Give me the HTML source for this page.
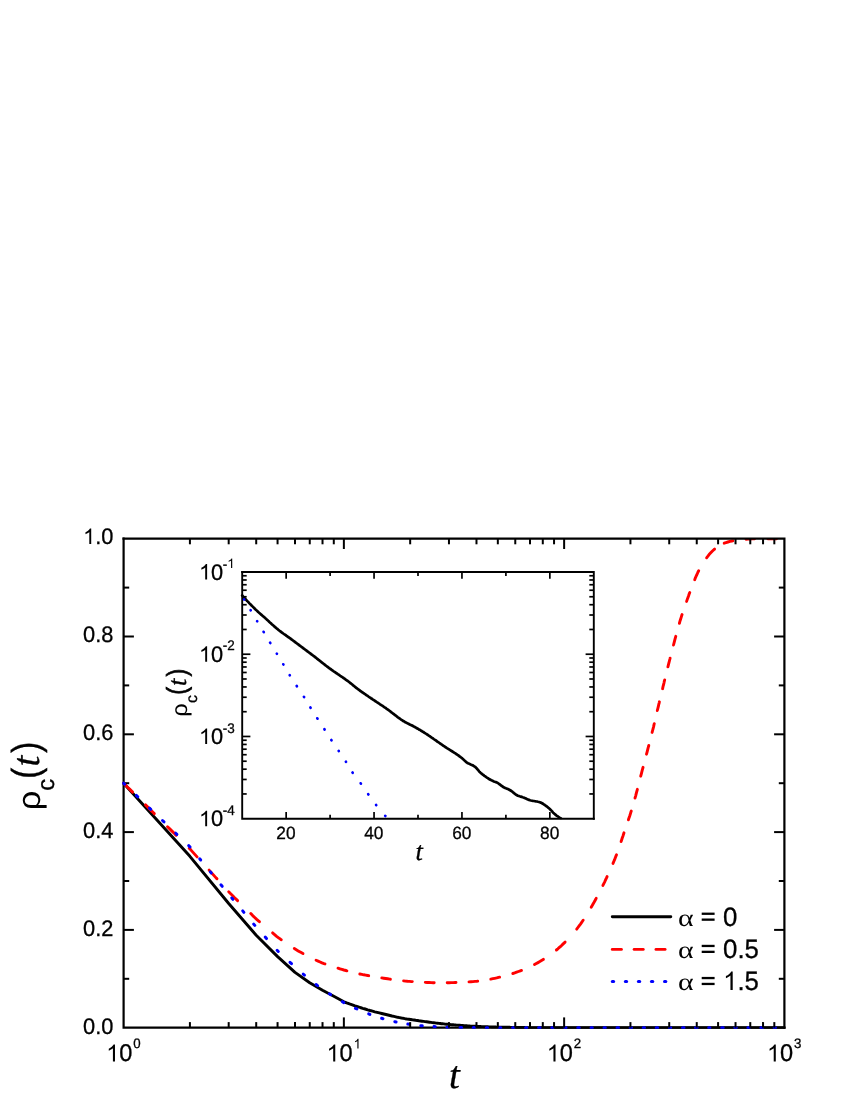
<!DOCTYPE html>
<html><head><meta charset="utf-8"><title>rho_c(t) chart</title>
<style>html,body{margin:0;padding:0;background:#fff;}body{width:850px;height:1100px;position:relative;overflow:hidden;font-family:"Liberation Sans",sans-serif;}</style>
</head><body>
<svg width="850" height="1100" viewBox="0 0 850 1100" style="position:absolute;left:0;top:0">
<rect width="850" height="1100" fill="#fff"/>
<g id="main-axes-bl">
<path d="M123.6 538.7 V1027.7 H784.4" fill="none" stroke="#000" stroke-width="2.2" stroke-linecap="square" stroke-linejoin="miter"/>
<line x1="123.6" y1="978.8" x2="129.2" y2="978.8" stroke="#000" stroke-width="2.0" stroke-linecap="butt"/>
<line x1="123.6" y1="929.9" x2="133.9" y2="929.9" stroke="#000" stroke-width="2.0" stroke-linecap="butt"/>
<line x1="123.6" y1="881" x2="129.2" y2="881" stroke="#000" stroke-width="2.0" stroke-linecap="butt"/>
<line x1="123.6" y1="832.1" x2="133.9" y2="832.1" stroke="#000" stroke-width="2.0" stroke-linecap="butt"/>
<line x1="123.6" y1="783.2" x2="129.2" y2="783.2" stroke="#000" stroke-width="2.0" stroke-linecap="butt"/>
<line x1="123.6" y1="734.3" x2="133.9" y2="734.3" stroke="#000" stroke-width="2.0" stroke-linecap="butt"/>
<line x1="123.6" y1="685.4" x2="129.2" y2="685.4" stroke="#000" stroke-width="2.0" stroke-linecap="butt"/>
<line x1="123.6" y1="636.5" x2="133.9" y2="636.5" stroke="#000" stroke-width="2.0" stroke-linecap="butt"/>
<line x1="123.6" y1="587.6" x2="129.2" y2="587.6" stroke="#000" stroke-width="2.0" stroke-linecap="butt"/>
</g>
<g id="main-data" fill="none" stroke-linejoin="round">
<clipPath id="cm"><rect x="119.6" y="538.2" width="665.8" height="490.5"/></clipPath>
<g clip-path="url(#cm)">
<path d="M123.6 783.2 L189.9 856.3 L228.7 903.5 L256.2 935.2 L277.6 956.6 L295.0 972.4 L309.7 982.7 L322.5 990.2 L333.8 996.2 L343.9 1001.8 L346.7 1002.9 L349.5 1003.9 L352.3 1004.8 L355.0 1005.8 L357.6 1006.6 L360.2 1007.5 L362.7 1008.3 L365.2 1009.0 L367.7 1009.8 L370.1 1010.5 L372.5 1011.1 L374.8 1011.8 L377.1 1012.3 L379.4 1012.9 L381.7 1013.5 L383.8 1014.0 L386.0 1014.5 L388.0 1015.0 L390.0 1015.5 L392.0 1016.0 L393.9 1016.4 L395.8 1016.8 L397.7 1017.3 L399.5 1017.6 L401.4 1018.0 L403.3 1018.3 L405.1 1018.7 L407.0 1019.0 L408.8 1019.2 L410.6 1019.5 L412.3 1019.8 L414.0 1020.0 L415.7 1020.3 L417.3 1020.5 L419.0 1020.8 L420.5 1021.0 L422.1 1021.2 L423.6 1021.4 L425.1 1021.6 L426.6 1021.8 L428.1 1022.0 L429.5 1022.2 L430.9 1022.4 L432.3 1022.6 L433.7 1022.7 L435.0 1022.9 L436.3 1023.1 L437.6 1023.2 L438.9 1023.4 L440.2 1023.5 L441.4 1023.7 L442.6 1023.8 L443.8 1023.9 L445.0 1024.1 L446.2 1024.2 L447.4 1024.3 L448.6 1024.4 L449.8 1024.5 L450.9 1024.6 L452.1 1024.7 L453.2 1024.8 L454.4 1024.9 L455.5 1025.0 L456.6 1025.1 L457.7 1025.1 L458.8 1025.2 L459.9 1025.3 L460.9 1025.4 L461.9 1025.5 L462.9 1025.5 L463.9 1025.6 L464.8 1025.7 L465.8 1025.8 L466.7 1025.8 L467.7 1025.9 L468.6 1025.9 L469.6 1026.0 L470.6 1026.1 L471.5 1026.1 L472.4 1026.2 L473.4 1026.2 L474.3 1026.2 L475.2 1026.3 L476.1 1026.3 L477.0 1026.4 L477.9 1026.4 L478.8 1026.5 L479.7 1026.5 L480.6 1026.5 L481.4 1026.6 L482.3 1026.6 L483.1 1026.6 L484.0 1026.7 L484.8 1026.7 L485.6 1026.7 L486.3 1026.8 L487.1 1026.8 L487.9 1026.8 L488.6 1026.9 L489.4 1026.9 L490.2 1026.9 L491.0 1026.9 L491.8 1027.0 L492.6 1027.0 L493.4 1027.0 L494.2 1027.0 L495.0 1027.0 L495.8 1027.0 L496.6 1027.1 L497.3 1027.1 L498.1 1027.1 L498.8 1027.1 L499.6 1027.1 L500.3 1027.2 L501.0 1027.2 L501.7 1027.2 L502.4 1027.2 L503.1 1027.2 L503.8 1027.2 L504.4 1027.2 L505.1 1027.3 L505.8 1027.3 L506.4 1027.3 L507.1 1027.3 L507.7 1027.3 L508.4 1027.3 L509.0 1027.3 L509.7 1027.3 L510.3 1027.4 L511.0 1027.4 L511.6 1027.4 L512.2 1027.4 L512.9 1027.4 L513.5 1027.4 L514.1 1027.4 L514.7 1027.4 L515.2 1027.4 L515.8 1027.4 L516.3 1027.5 L516.8 1027.5 L517.4 1027.5 L518.1 1027.5 L518.7 1027.5 L519.4 1027.5 L519.9 1027.5 L520.4 1027.5 L520.9 1027.5 L521.3 1027.5 L521.8 1027.5 L522.3 1027.5 L522.8 1027.5 L523.4 1027.5 L523.9 1027.5 L524.5 1027.5 L525.1 1027.6 L525.6 1027.6 L526.2 1027.6 L526.8 1027.6 L527.4 1027.6 L527.9 1027.6 L528.4 1027.6 L528.9 1027.6 L529.5 1027.6 L530.1 1027.6 L530.6 1027.6 L531.2 1027.6 L531.7 1027.6 L532.2 1027.6 L532.7 1027.6 L533.1 1027.6 L533.7 1027.6 L534.2 1027.6 L534.8 1027.6 L535.4 1027.6 L535.9 1027.6 L536.4 1027.6 L537.0 1027.6 L537.5 1027.6 L538.1 1027.6 L538.7 1027.6 L539.2 1027.6 L539.8 1027.6 L540.3 1027.6 L540.8 1027.6 L541.2 1027.6 L541.7 1027.6 L542.1 1027.6 L542.6 1027.6 L543.0 1027.6 L543.3 1027.6 L543.7 1027.6 L544.1 1027.6 L544.5 1027.6 L544.9 1027.6 L545.4 1027.6 L545.7 1027.7 L564.1 1027.7 L784.4 1027.7" stroke="#000" stroke-width="2.9" stroke-linecap="round"/>
<path d="M123.6 783.2 L125.6 785.2 L127.6 787.2 L129.6 789.1 L131.6 791.1 L132.6 792.1" stroke="#ff0000" stroke-width="2.9" stroke-linecap="round"/>
<path d="M145.5 804.9 L147.5 806.9 L149.5 808.9 L151.5 810.9 L153.5 812.8 L154.3 813.6" stroke="#ff0000" stroke-width="2.9" stroke-linecap="round"/>
<path d="M167.5 826.7 L169.5 828.6 L171.5 830.6 L173.5 832.6 L175.4 834.6 L176.2 835.3" stroke="#ff0000" stroke-width="2.9" stroke-linecap="round"/>
<path d="M189.2 848.2 L191.0 850.1 L192.8 852.1 L194.6 854.1 L196.4 856.1 L197.1 856.9" stroke="#ff0000" stroke-width="2.9" stroke-linecap="round"/>
<path d="M209.1 870.1 L210.9 872.1 L212.7 874.1 L214.5 876.1 L216.3 878.1 L217.0 878.8" stroke="#ff0000" stroke-width="2.9" stroke-linecap="round"/>
<path d="M228.7 891.8 L230.7 893.8 L232.7 895.7 L234.6 897.7 L236.6 899.6 L237.6 900.6" stroke="#ff0000" stroke-width="2.9" stroke-linecap="round"/>
<path d="M250.8 913.6 L252.7 915.6 L254.7 917.5 L256.7 919.4 L258.7 921.1 L259.4 921.7" stroke="#ff0000" stroke-width="2.9" stroke-linecap="round"/>
<path d="M272.6 932.9 L274.6 934.6 L276.6 936.3 L278.6 937.8 L280.5 939.2 L281.3 939.7" stroke="#ff0000" stroke-width="2.9" stroke-linecap="round"/>
<path d="M294.3 948.6 L296.3 949.8 L298.2 950.9 L300.2 952.0 L302.2 953.1 L303.0 953.5" stroke="#ff0000" stroke-width="2.9" stroke-linecap="round"/>
<path d="M316.1 960.2 L318.1 961.1 L320.1 962.0 L322.0 962.9 L324.0 963.6 L325.0 963.9" stroke="#ff0000" stroke-width="2.9" stroke-linecap="round"/>
<path d="M338.0 968.2 L339.9 968.8 L341.9 969.4 L343.9 970.0 L345.9 970.5 L346.9 970.8" stroke="#ff0000" stroke-width="2.9" stroke-linecap="round"/>
<path d="M359.8 974.0 L361.8 974.4 L363.8 974.8 L365.7 975.1 L367.7 975.5 L368.7 975.7" stroke="#ff0000" stroke-width="2.9" stroke-linecap="round"/>
<path d="M381.8 977.9 L383.7 978.2 L385.7 978.5 L387.7 978.8 L389.7 979.1 L390.4 979.2" stroke="#ff0000" stroke-width="2.9" stroke-linecap="round"/>
<path d="M403.6 980.9 L405.5 981.1 L407.5 981.3 L409.5 981.4 L411.5 981.6 L412.3 981.6" stroke="#ff0000" stroke-width="2.9" stroke-linecap="round"/>
<path d="M425.3 982.4 L427.2 982.5 L429.2 982.5 L431.2 982.6 L433.2 982.7 L434.2 982.7" stroke="#ff0000" stroke-width="2.9" stroke-linecap="round"/>
<path d="M447.2 982.7 L449.2 982.7 L451.2 982.6 L453.2 982.6 L455.2 982.5 L456.0 982.5" stroke="#ff0000" stroke-width="2.9" stroke-linecap="round"/>
<path d="M469.0 981.9 L471.0 981.7 L473.0 981.6 L475.0 981.4 L477.0 981.2 L477.7 981.1" stroke="#ff0000" stroke-width="2.9" stroke-linecap="round"/>
<path d="M490.8 979.1 L492.8 978.7 L494.7 978.3 L496.7 977.9 L498.6 977.4 L499.6 977.2" stroke="#ff0000" stroke-width="2.9" stroke-linecap="round"/>
<path d="M512.8 973.5 L514.7 972.9 L516.6 972.2 L518.5 971.5 L520.4 970.8 L521.5 970.4" stroke="#ff0000" stroke-width="2.9" stroke-linecap="round"/>
<path d="M534.5 964.5 L536.3 963.5 L538.0 962.6 L539.8 961.6 L541.5 960.6 L543.2 959.6 L543.4 959.4" stroke="#ff0000" stroke-width="2.9" stroke-linecap="round"/>
<path d="M556.4 950.0 L557.9 948.8 L559.4 947.4 L561.3 945.8 L563.2 943.9 L565.1 942.1 L565.1 942.1" stroke="#ff0000" stroke-width="2.9" stroke-linecap="round"/>
<path d="M576.7 929.1 L577.9 927.5 L579.1 925.9 L580.3 924.3 L581.5 922.6 L582.6 921.0 L583.2 920.2" stroke="#ff0000" stroke-width="2.9" stroke-linecap="round"/>
<path d="M591.2 907.2 L592.2 905.5 L593.2 903.7 L594.2 902.0 L595.2 900.2 L596.1 898.5 L596.2 898.3" stroke="#ff0000" stroke-width="2.9" stroke-linecap="round"/>
<path d="M602.9 885.4 L603.8 883.6 L604.7 881.8 L605.5 880.0 L606.4 878.2 L607.1 876.6" stroke="#ff0000" stroke-width="2.9" stroke-linecap="round"/>
<path d="M613.0 863.4 L613.8 861.5 L614.6 859.7 L615.3 857.8 L616.0 855.9 L616.5 854.8" stroke="#ff0000" stroke-width="2.9" stroke-linecap="round"/>
<path d="M621.1 841.5 L621.7 839.7 L622.3 837.8 L623.0 835.9 L623.6 834.0 L624.0 832.8" stroke="#ff0000" stroke-width="2.9" stroke-linecap="round"/>
<path d="M628.4 819.8 L629.0 817.9 L629.7 816.0 L630.3 814.1 L630.9 812.1 L631.3 811.0" stroke="#ff0000" stroke-width="2.9" stroke-linecap="round"/>
<path d="M635.0 798.0 L635.6 796.1 L636.1 794.1 L636.6 792.2 L637.1 790.3 L637.4 789.3" stroke="#ff0000" stroke-width="2.9" stroke-linecap="round"/>
<path d="M640.7 776.2 L641.2 774.3 L641.7 772.4 L642.2 770.4 L642.7 768.5 L643.1 767.3" stroke="#ff0000" stroke-width="2.9" stroke-linecap="round"/>
<path d="M646.5 754.2 L647.0 752.3 L647.5 750.4 L648.0 748.4 L648.5 746.5 L648.8 745.5" stroke="#ff0000" stroke-width="2.9" stroke-linecap="round"/>
<path d="M652.1 732.4 L652.6 730.5 L653.1 728.6 L653.6 726.6 L654.0 724.7 L654.3 723.7" stroke="#ff0000" stroke-width="2.9" stroke-linecap="round"/>
<path d="M657.3 710.5 L657.8 708.6 L658.3 706.7 L658.7 704.7 L659.2 702.8 L659.4 701.8" stroke="#ff0000" stroke-width="2.9" stroke-linecap="round"/>
<path d="M662.6 688.7 L663.0 686.7 L663.5 684.8 L664.0 682.8 L664.4 680.9 L664.7 679.9" stroke="#ff0000" stroke-width="2.9" stroke-linecap="round"/>
<path d="M667.9 666.8 L668.4 664.9 L668.9 662.9 L669.4 661.0 L669.9 659.0 L670.1 658.1" stroke="#ff0000" stroke-width="2.9" stroke-linecap="round"/>
<path d="M673.5 645.0 L674.0 643.1 L674.5 641.1 L675.0 639.2 L675.5 637.3 L675.8 636.3" stroke="#ff0000" stroke-width="2.9" stroke-linecap="round"/>
<path d="M679.4 623.3 L679.9 621.4 L680.5 619.5 L681.1 617.6 L681.7 615.6 L682.1 614.5" stroke="#ff0000" stroke-width="2.9" stroke-linecap="round"/>
<path d="M686.6 601.4 L687.2 599.6 L687.9 597.7 L688.6 595.8 L689.2 593.9 L689.8 592.5" stroke="#ff0000" stroke-width="2.9" stroke-linecap="round"/>
<path d="M694.7 579.7 L695.4 577.8 L696.2 576.0 L697.1 574.2 L697.9 572.3 L698.7 570.8" stroke="#ff0000" stroke-width="2.9" stroke-linecap="round"/>
<path d="M706.6 557.8 L707.9 556.2 L709.1 554.6 L710.5 553.1 L712.2 551.3 L714.1 549.5 L714.6 549.1" stroke="#ff0000" stroke-width="2.9" stroke-linecap="round"/>
<path d="M724.2 543.2 L726.0 542.6 L727.9 542.0 L729.9 541.4 L731.8 541.0 L732.8 540.8" stroke="#ff0000" stroke-width="2.9" stroke-linecap="round"/>
<path d="M746.0 539.2 L748.0 539.1 L750.0 539.0 L752.0 538.9 L754.0 538.8 L754.6 538.8" stroke="#ff0000" stroke-width="2.9" stroke-linecap="round"/>
<path d="M767.8 538.7 L769.4 538.7 L771.2 538.7 L773.2 538.7 L775.2 538.7 L776.5 538.7" stroke="#ff0000" stroke-width="2.9" stroke-linecap="round"/>
<path d="M123.6 783.2 L124.6 784.2" stroke="#0000ff" stroke-width="3.0" stroke-linecap="round"/>
<path d="M136.3 795.4 L137.8 796.8" stroke="#0000ff" stroke-width="3.0" stroke-linecap="round"/>
<path d="M149.5 808.1 L150.8 809.3" stroke="#0000ff" stroke-width="3.0" stroke-linecap="round"/>
<path d="M162.5 820.5 L164.0 821.9" stroke="#0000ff" stroke-width="3.0" stroke-linecap="round"/>
<path d="M175.7 833.2 L176.9 834.4" stroke="#0000ff" stroke-width="3.0" stroke-linecap="round"/>
<path d="M188.7 845.6 L190.1 847.0" stroke="#0000ff" stroke-width="3.0" stroke-linecap="round"/>
<path d="M199.7 858.8 L200.7 860.0" stroke="#0000ff" stroke-width="3.0" stroke-linecap="round"/>
<path d="M210.3 871.8 L211.3 873.0" stroke="#0000ff" stroke-width="3.0" stroke-linecap="round"/>
<path d="M220.9 884.8 L222.2 886.3" stroke="#0000ff" stroke-width="3.0" stroke-linecap="round"/>
<path d="M231.8 898.0 L232.9 899.3" stroke="#0000ff" stroke-width="3.0" stroke-linecap="round"/>
<path d="M242.7 910.9 L243.9 912.4" stroke="#0000ff" stroke-width="3.0" stroke-linecap="round"/>
<path d="M253.7 924.1 L254.8 925.4" stroke="#0000ff" stroke-width="3.0" stroke-linecap="round"/>
<path d="M265.2 937.1 L266.5 938.6" stroke="#0000ff" stroke-width="3.0" stroke-linecap="round"/>
<path d="M277.1 950.3 L278.3 951.5" stroke="#0000ff" stroke-width="3.0" stroke-linecap="round"/>
<path d="M290.0 962.3 L291.5 963.7" stroke="#0000ff" stroke-width="3.0" stroke-linecap="round"/>
<path d="M303.2 974.1 L304.5 975.1" stroke="#0000ff" stroke-width="3.0" stroke-linecap="round"/>
<path d="M316.1 984.5 L317.6 985.6" stroke="#0000ff" stroke-width="3.0" stroke-linecap="round"/>
<path d="M329.4 993.8 L330.6 994.6" stroke="#0000ff" stroke-width="3.0" stroke-linecap="round"/>
<path d="M342.4 1001.7 L343.9 1002.6" stroke="#0000ff" stroke-width="3.0" stroke-linecap="round"/>
<path d="M355.4 1008.3 L356.9 1008.9" stroke="#0000ff" stroke-width="3.0" stroke-linecap="round"/>
<path d="M368.7 1013.9 L369.9 1014.4" stroke="#0000ff" stroke-width="3.0" stroke-linecap="round"/>
<path d="M381.6 1018.3 L383.0 1018.7" stroke="#0000ff" stroke-width="3.0" stroke-linecap="round"/>
<path d="M394.8 1021.7 L396.1 1022.0" stroke="#0000ff" stroke-width="3.0" stroke-linecap="round"/>
<path d="M407.8 1024.1 L409.2 1024.3" stroke="#0000ff" stroke-width="3.0" stroke-linecap="round"/>
<path d="M420.8 1025.7 L422.3 1025.8" stroke="#0000ff" stroke-width="3.0" stroke-linecap="round"/>
<path d="M434.0 1026.6 L435.3 1026.7" stroke="#0000ff" stroke-width="3.0" stroke-linecap="round"/>
<path d="M447.0 1027.2 L448.4 1027.2" stroke="#0000ff" stroke-width="3.0" stroke-linecap="round"/>
<path d="M460.1 1027.5 L461.6 1027.5" stroke="#0000ff" stroke-width="3.0" stroke-linecap="round"/>
<path d="M473.3 1027.6 L474.5 1027.6" stroke="#0000ff" stroke-width="3.0" stroke-linecap="round"/>
<path d="M486.3 1027.7 L487.6 1027.7" stroke="#0000ff" stroke-width="3.0" stroke-linecap="round"/>
<path d="M499.3 1027.7 L500.8 1027.7" stroke="#0000ff" stroke-width="3.0" stroke-linecap="round"/>
<path d="M512.6 1027.7 L513.8 1027.7" stroke="#0000ff" stroke-width="3.0" stroke-linecap="round"/>
<path d="M525.6 1027.7 L526.8 1027.7" stroke="#0000ff" stroke-width="3.0" stroke-linecap="round"/>
<path d="M538.6 1027.7 L540.1 1027.7" stroke="#0000ff" stroke-width="3.0" stroke-linecap="round"/>
<path d="M551.8 1027.7 L553.0 1027.7" stroke="#0000ff" stroke-width="3.0" stroke-linecap="round"/>
<path d="M564.8 1027.7 L566.0 1027.7" stroke="#0000ff" stroke-width="3.0" stroke-linecap="round"/>
<path d="M577.8 1027.7 L579.3 1027.7" stroke="#0000ff" stroke-width="3.0" stroke-linecap="round"/>
<path d="M591.0 1027.7 L592.3 1027.7" stroke="#0000ff" stroke-width="3.0" stroke-linecap="round"/>
<path d="M604.0 1027.7 L605.3 1027.7" stroke="#0000ff" stroke-width="3.0" stroke-linecap="round"/>
<path d="M617.0 1027.7 L618.5 1027.7" stroke="#0000ff" stroke-width="3.0" stroke-linecap="round"/>
<path d="M630.2 1027.7 L631.5 1027.7" stroke="#0000ff" stroke-width="3.0" stroke-linecap="round"/>
<path d="M643.2 1027.7 L644.5 1027.7" stroke="#0000ff" stroke-width="3.0" stroke-linecap="round"/>
<path d="M656.2 1027.7 L657.7 1027.7" stroke="#0000ff" stroke-width="3.0" stroke-linecap="round"/>
<path d="M669.5 1027.7 L670.7 1027.7" stroke="#0000ff" stroke-width="3.0" stroke-linecap="round"/>
<path d="M682.5 1027.7 L684.0 1027.7" stroke="#0000ff" stroke-width="3.0" stroke-linecap="round"/>
<path d="M695.5 1027.7 L697.0 1027.7" stroke="#0000ff" stroke-width="3.0" stroke-linecap="round"/>
<path d="M708.7 1027.7 L709.9 1027.7" stroke="#0000ff" stroke-width="3.0" stroke-linecap="round"/>
<path d="M721.7 1027.7 L723.2 1027.7" stroke="#0000ff" stroke-width="3.0" stroke-linecap="round"/>
<path d="M734.9 1027.7 L736.2 1027.7" stroke="#0000ff" stroke-width="3.0" stroke-linecap="round"/>
<path d="M747.9 1027.7 L749.2 1027.7" stroke="#0000ff" stroke-width="3.0" stroke-linecap="round"/>
<path d="M760.9 1027.7 L762.4 1027.7" stroke="#0000ff" stroke-width="3.0" stroke-linecap="round"/>
<path d="M774.2 1027.7 L775.4 1027.7" stroke="#0000ff" stroke-width="3.0" stroke-linecap="round"/>
</g></g>
<g id="main-axes-tr">
<path d="M123.6 538.7 H784.4 V1027.7" fill="none" stroke="#000" stroke-width="2.2" stroke-linecap="square" stroke-linejoin="miter"/>
<line x1="189.91" y1="1027.7" x2="189.91" y2="1022.1" stroke="#000" stroke-width="2.0" stroke-linecap="butt"/>
<line x1="228.69" y1="1027.7" x2="228.69" y2="1022.1" stroke="#000" stroke-width="2.0" stroke-linecap="butt"/>
<line x1="256.21" y1="1027.7" x2="256.21" y2="1022.1" stroke="#000" stroke-width="2.0" stroke-linecap="butt"/>
<line x1="277.56" y1="1027.7" x2="277.56" y2="1022.1" stroke="#000" stroke-width="2.0" stroke-linecap="butt"/>
<line x1="295" y1="1027.7" x2="295" y2="1022.1" stroke="#000" stroke-width="2.0" stroke-linecap="butt"/>
<line x1="309.75" y1="1027.7" x2="309.75" y2="1022.1" stroke="#000" stroke-width="2.0" stroke-linecap="butt"/>
<line x1="322.52" y1="1027.7" x2="322.52" y2="1022.1" stroke="#000" stroke-width="2.0" stroke-linecap="butt"/>
<line x1="333.79" y1="1027.7" x2="333.79" y2="1022.1" stroke="#000" stroke-width="2.0" stroke-linecap="butt"/>
<line x1="343.87" y1="1027.7" x2="343.87" y2="1017.4" stroke="#000" stroke-width="2.0" stroke-linecap="butt"/>
<line x1="410.17" y1="1027.7" x2="410.17" y2="1022.1" stroke="#000" stroke-width="2.0" stroke-linecap="butt"/>
<line x1="448.96" y1="1027.7" x2="448.96" y2="1022.1" stroke="#000" stroke-width="2.0" stroke-linecap="butt"/>
<line x1="476.48" y1="1027.7" x2="476.48" y2="1022.1" stroke="#000" stroke-width="2.0" stroke-linecap="butt"/>
<line x1="497.83" y1="1027.7" x2="497.83" y2="1022.1" stroke="#000" stroke-width="2.0" stroke-linecap="butt"/>
<line x1="515.27" y1="1027.7" x2="515.27" y2="1022.1" stroke="#000" stroke-width="2.0" stroke-linecap="butt"/>
<line x1="530.01" y1="1027.7" x2="530.01" y2="1022.1" stroke="#000" stroke-width="2.0" stroke-linecap="butt"/>
<line x1="542.79" y1="1027.7" x2="542.79" y2="1022.1" stroke="#000" stroke-width="2.0" stroke-linecap="butt"/>
<line x1="554.05" y1="1027.7" x2="554.05" y2="1022.1" stroke="#000" stroke-width="2.0" stroke-linecap="butt"/>
<line x1="564.13" y1="1027.7" x2="564.13" y2="1017.4" stroke="#000" stroke-width="2.0" stroke-linecap="butt"/>
<line x1="630.44" y1="1027.7" x2="630.44" y2="1022.1" stroke="#000" stroke-width="2.0" stroke-linecap="butt"/>
<line x1="669.23" y1="1027.7" x2="669.23" y2="1022.1" stroke="#000" stroke-width="2.0" stroke-linecap="butt"/>
<line x1="696.75" y1="1027.7" x2="696.75" y2="1022.1" stroke="#000" stroke-width="2.0" stroke-linecap="butt"/>
<line x1="718.09" y1="1027.7" x2="718.09" y2="1022.1" stroke="#000" stroke-width="2.0" stroke-linecap="butt"/>
<line x1="735.53" y1="1027.7" x2="735.53" y2="1022.1" stroke="#000" stroke-width="2.0" stroke-linecap="butt"/>
<line x1="750.28" y1="1027.7" x2="750.28" y2="1022.1" stroke="#000" stroke-width="2.0" stroke-linecap="butt"/>
<line x1="763.05" y1="1027.7" x2="763.05" y2="1022.1" stroke="#000" stroke-width="2.0" stroke-linecap="butt"/>
<line x1="774.32" y1="1027.7" x2="774.32" y2="1022.1" stroke="#000" stroke-width="2.0" stroke-linecap="butt"/>
<line x1="189.91" y1="538.7" x2="189.91" y2="544.3" stroke="#000" stroke-width="2.0" stroke-linecap="butt"/>
<line x1="228.69" y1="538.7" x2="228.69" y2="544.3" stroke="#000" stroke-width="2.0" stroke-linecap="butt"/>
<line x1="256.21" y1="538.7" x2="256.21" y2="544.3" stroke="#000" stroke-width="2.0" stroke-linecap="butt"/>
<line x1="277.56" y1="538.7" x2="277.56" y2="544.3" stroke="#000" stroke-width="2.0" stroke-linecap="butt"/>
<line x1="295" y1="538.7" x2="295" y2="544.3" stroke="#000" stroke-width="2.0" stroke-linecap="butt"/>
<line x1="309.75" y1="538.7" x2="309.75" y2="544.3" stroke="#000" stroke-width="2.0" stroke-linecap="butt"/>
<line x1="322.52" y1="538.7" x2="322.52" y2="544.3" stroke="#000" stroke-width="2.0" stroke-linecap="butt"/>
<line x1="333.79" y1="538.7" x2="333.79" y2="544.3" stroke="#000" stroke-width="2.0" stroke-linecap="butt"/>
<line x1="343.87" y1="538.7" x2="343.87" y2="549" stroke="#000" stroke-width="2.0" stroke-linecap="butt"/>
<line x1="410.17" y1="538.7" x2="410.17" y2="544.3" stroke="#000" stroke-width="2.0" stroke-linecap="butt"/>
<line x1="448.96" y1="538.7" x2="448.96" y2="544.3" stroke="#000" stroke-width="2.0" stroke-linecap="butt"/>
<line x1="476.48" y1="538.7" x2="476.48" y2="544.3" stroke="#000" stroke-width="2.0" stroke-linecap="butt"/>
<line x1="497.83" y1="538.7" x2="497.83" y2="544.3" stroke="#000" stroke-width="2.0" stroke-linecap="butt"/>
<line x1="515.27" y1="538.7" x2="515.27" y2="544.3" stroke="#000" stroke-width="2.0" stroke-linecap="butt"/>
<line x1="530.01" y1="538.7" x2="530.01" y2="544.3" stroke="#000" stroke-width="2.0" stroke-linecap="butt"/>
<line x1="542.79" y1="538.7" x2="542.79" y2="544.3" stroke="#000" stroke-width="2.0" stroke-linecap="butt"/>
<line x1="554.05" y1="538.7" x2="554.05" y2="544.3" stroke="#000" stroke-width="2.0" stroke-linecap="butt"/>
<line x1="564.13" y1="538.7" x2="564.13" y2="549" stroke="#000" stroke-width="2.0" stroke-linecap="butt"/>
<line x1="630.44" y1="538.7" x2="630.44" y2="544.3" stroke="#000" stroke-width="2.0" stroke-linecap="butt"/>
<line x1="669.23" y1="538.7" x2="669.23" y2="544.3" stroke="#000" stroke-width="2.0" stroke-linecap="butt"/>
<line x1="696.75" y1="538.7" x2="696.75" y2="544.3" stroke="#000" stroke-width="2.0" stroke-linecap="butt"/>
<line x1="718.09" y1="538.7" x2="718.09" y2="544.3" stroke="#000" stroke-width="2.0" stroke-linecap="butt"/>
<line x1="735.53" y1="538.7" x2="735.53" y2="544.3" stroke="#000" stroke-width="2.0" stroke-linecap="butt"/>
<line x1="750.28" y1="538.7" x2="750.28" y2="544.3" stroke="#000" stroke-width="2.0" stroke-linecap="butt"/>
<line x1="763.05" y1="538.7" x2="763.05" y2="544.3" stroke="#000" stroke-width="2.0" stroke-linecap="butt"/>
<line x1="774.32" y1="538.7" x2="774.32" y2="544.3" stroke="#000" stroke-width="2.0" stroke-linecap="butt"/>
<line x1="784.4" y1="978.8" x2="778.8" y2="978.8" stroke="#000" stroke-width="2.0" stroke-linecap="butt"/>
<line x1="784.4" y1="929.9" x2="774.1" y2="929.9" stroke="#000" stroke-width="2.0" stroke-linecap="butt"/>
<line x1="784.4" y1="881" x2="778.8" y2="881" stroke="#000" stroke-width="2.0" stroke-linecap="butt"/>
<line x1="784.4" y1="832.1" x2="774.1" y2="832.1" stroke="#000" stroke-width="2.0" stroke-linecap="butt"/>
<line x1="784.4" y1="783.2" x2="778.8" y2="783.2" stroke="#000" stroke-width="2.0" stroke-linecap="butt"/>
<line x1="784.4" y1="734.3" x2="774.1" y2="734.3" stroke="#000" stroke-width="2.0" stroke-linecap="butt"/>
<line x1="784.4" y1="685.4" x2="778.8" y2="685.4" stroke="#000" stroke-width="2.0" stroke-linecap="butt"/>
<line x1="784.4" y1="636.5" x2="774.1" y2="636.5" stroke="#000" stroke-width="2.0" stroke-linecap="butt"/>
<line x1="784.4" y1="587.6" x2="778.8" y2="587.6" stroke="#000" stroke-width="2.0" stroke-linecap="butt"/>
</g>
<g id="inset">
<rect x="242.2" y="572.0" width="351.6" height="246.7" fill="#fff"/>
<path d="M242.2 572.0 V818.7 H593.8" fill="none" stroke="#000" stroke-width="1.9" stroke-linecap="square" stroke-linejoin="miter"/>
<line x1="286.15" y1="818.7" x2="286.15" y2="812" stroke="#000" stroke-width="1.7" stroke-linecap="butt"/>
<line x1="330.1" y1="818.7" x2="330.1" y2="814.7" stroke="#000" stroke-width="1.7" stroke-linecap="butt"/>
<line x1="374.05" y1="818.7" x2="374.05" y2="812" stroke="#000" stroke-width="1.7" stroke-linecap="butt"/>
<line x1="418" y1="818.7" x2="418" y2="814.7" stroke="#000" stroke-width="1.7" stroke-linecap="butt"/>
<line x1="461.95" y1="818.7" x2="461.95" y2="812" stroke="#000" stroke-width="1.7" stroke-linecap="butt"/>
<line x1="505.9" y1="818.7" x2="505.9" y2="814.7" stroke="#000" stroke-width="1.7" stroke-linecap="butt"/>
<line x1="549.85" y1="818.7" x2="549.85" y2="812" stroke="#000" stroke-width="1.7" stroke-linecap="butt"/>
<line x1="242.2" y1="793.95" x2="246.7" y2="793.95" stroke="#000" stroke-width="1.7" stroke-linecap="butt"/>
<line x1="242.2" y1="779.46" x2="246.7" y2="779.46" stroke="#000" stroke-width="1.7" stroke-linecap="butt"/>
<line x1="242.2" y1="769.19" x2="246.7" y2="769.19" stroke="#000" stroke-width="1.7" stroke-linecap="butt"/>
<line x1="242.2" y1="761.22" x2="246.7" y2="761.22" stroke="#000" stroke-width="1.7" stroke-linecap="butt"/>
<line x1="242.2" y1="754.71" x2="246.7" y2="754.71" stroke="#000" stroke-width="1.7" stroke-linecap="butt"/>
<line x1="242.2" y1="749.2" x2="246.7" y2="749.2" stroke="#000" stroke-width="1.7" stroke-linecap="butt"/>
<line x1="242.2" y1="744.44" x2="246.7" y2="744.44" stroke="#000" stroke-width="1.7" stroke-linecap="butt"/>
<line x1="242.2" y1="740.23" x2="246.7" y2="740.23" stroke="#000" stroke-width="1.7" stroke-linecap="butt"/>
<line x1="242.2" y1="736.47" x2="250.4" y2="736.47" stroke="#000" stroke-width="1.7" stroke-linecap="butt"/>
<line x1="242.2" y1="711.71" x2="246.7" y2="711.71" stroke="#000" stroke-width="1.7" stroke-linecap="butt"/>
<line x1="242.2" y1="697.23" x2="246.7" y2="697.23" stroke="#000" stroke-width="1.7" stroke-linecap="butt"/>
<line x1="242.2" y1="686.96" x2="246.7" y2="686.96" stroke="#000" stroke-width="1.7" stroke-linecap="butt"/>
<line x1="242.2" y1="678.99" x2="246.7" y2="678.99" stroke="#000" stroke-width="1.7" stroke-linecap="butt"/>
<line x1="242.2" y1="672.48" x2="246.7" y2="672.48" stroke="#000" stroke-width="1.7" stroke-linecap="butt"/>
<line x1="242.2" y1="666.97" x2="246.7" y2="666.97" stroke="#000" stroke-width="1.7" stroke-linecap="butt"/>
<line x1="242.2" y1="662.2" x2="246.7" y2="662.2" stroke="#000" stroke-width="1.7" stroke-linecap="butt"/>
<line x1="242.2" y1="658" x2="246.7" y2="658" stroke="#000" stroke-width="1.7" stroke-linecap="butt"/>
<line x1="242.2" y1="654.23" x2="250.4" y2="654.23" stroke="#000" stroke-width="1.7" stroke-linecap="butt"/>
<line x1="242.2" y1="629.48" x2="246.7" y2="629.48" stroke="#000" stroke-width="1.7" stroke-linecap="butt"/>
<line x1="242.2" y1="615" x2="246.7" y2="615" stroke="#000" stroke-width="1.7" stroke-linecap="butt"/>
<line x1="242.2" y1="604.72" x2="246.7" y2="604.72" stroke="#000" stroke-width="1.7" stroke-linecap="butt"/>
<line x1="242.2" y1="596.75" x2="246.7" y2="596.75" stroke="#000" stroke-width="1.7" stroke-linecap="butt"/>
<line x1="242.2" y1="590.24" x2="246.7" y2="590.24" stroke="#000" stroke-width="1.7" stroke-linecap="butt"/>
<line x1="242.2" y1="584.74" x2="246.7" y2="584.74" stroke="#000" stroke-width="1.7" stroke-linecap="butt"/>
<line x1="242.2" y1="579.97" x2="246.7" y2="579.97" stroke="#000" stroke-width="1.7" stroke-linecap="butt"/>
<line x1="242.2" y1="575.76" x2="246.7" y2="575.76" stroke="#000" stroke-width="1.7" stroke-linecap="butt"/>
<clipPath id="ci"><rect x="239.2" y="572.0" width="354.6" height="247.2"/></clipPath>
<g clip-path="url(#ci)" fill="none" stroke-linejoin="round">
<path d="M242.2 595.5 L242.9 596.2 L243.5 597.0 L244.2 597.7 L244.9 598.5 L245.6 599.2 L246.2 599.9 L246.9 600.7 L247.6 601.4 L248.3 602.1 L249.0 602.8 L249.7 603.6 L250.4 604.3 L251.1 605.0 L251.8 605.7 L252.5 606.4 L253.2 607.1 L253.9 607.8 L254.6 608.5 L255.3 609.2 L256.1 609.9 L256.8 610.6 L257.5 611.3 L258.2 612.0 L259.0 612.6 L259.7 613.3 L260.5 614.0 L261.2 614.6 L262.0 615.3 L262.7 615.9 L263.5 616.6 L264.3 617.2 L265.0 617.9 L265.7 618.6 L266.5 619.3 L267.2 619.9 L268.0 620.6 L268.7 621.3 L269.4 622.0 L270.2 622.7 L270.9 623.3 L271.6 624.0 L272.4 624.7 L273.1 625.3 L273.9 626.0 L274.6 626.7 L275.4 627.3 L276.1 628.0 L276.9 628.6 L277.7 629.2 L278.5 629.9 L279.2 630.5 L280.0 631.1 L280.8 631.7 L281.6 632.3 L282.4 632.9 L283.2 633.5 L284.1 634.1 L284.9 634.6 L285.7 635.2 L286.5 635.8 L287.3 636.4 L288.1 637.0 L289.0 637.5 L289.8 638.1 L290.6 638.7 L291.4 639.3 L292.2 639.9 L293.0 640.5 L293.8 641.1 L294.6 641.7 L295.4 642.3 L296.2 642.9 L297.0 643.5 L297.8 644.1 L298.6 644.7 L299.4 645.3 L300.2 645.9 L301.0 646.5 L301.8 647.1 L302.6 647.7 L303.4 648.3 L304.2 648.9 L305.0 649.5 L305.8 650.1 L306.6 650.7 L307.4 651.3 L308.2 651.9 L309.0 652.5 L309.8 653.1 L310.6 653.7 L311.4 654.3 L312.2 654.9 L313.0 655.5 L313.8 656.1 L314.6 656.7 L315.4 657.3 L316.2 657.9 L316.9 658.6 L317.7 659.2 L318.5 659.8 L319.3 660.4 L320.1 661.0 L320.9 661.7 L321.7 662.3 L322.4 662.9 L323.2 663.5 L324.0 664.1 L324.8 664.7 L325.6 665.4 L326.4 666.0 L327.2 666.6 L328.0 667.2 L328.8 667.8 L329.6 668.4 L330.4 669.0 L331.2 669.5 L332.0 670.1 L332.8 670.7 L333.7 671.3 L334.5 671.8 L335.3 672.4 L336.1 673.0 L337.0 673.5 L337.8 674.1 L338.6 674.6 L339.4 675.2 L340.3 675.8 L341.1 676.3 L341.9 676.9 L342.8 677.5 L343.6 678.0 L344.4 678.6 L345.2 679.2 L346.0 679.8 L346.8 680.3 L347.6 680.9 L348.4 681.5 L349.2 682.1 L350.0 682.8 L350.8 683.4 L351.6 684.0 L352.4 684.6 L353.1 685.3 L353.9 685.9 L354.7 686.6 L355.4 687.2 L356.2 687.8 L357.0 688.4 L357.8 689.0 L358.6 689.6 L359.4 690.2 L360.2 690.8 L361.0 691.4 L361.8 692.0 L362.7 692.5 L363.5 693.1 L364.3 693.7 L365.1 694.2 L366.0 694.8 L366.8 695.4 L367.6 695.9 L368.4 696.5 L369.3 697.1 L370.1 697.6 L370.9 698.2 L371.8 698.7 L372.6 699.3 L373.4 699.8 L374.3 700.4 L375.1 701.0 L375.9 701.5 L376.8 702.1 L377.6 702.6 L378.4 703.2 L379.2 703.7 L380.1 704.3 L380.9 704.8 L381.8 705.4 L382.6 705.9 L383.4 706.5 L384.2 707.1 L385.1 707.6 L385.9 708.2 L386.7 708.8 L387.5 709.3 L388.3 709.9 L389.1 710.5 L389.9 711.1 L390.7 711.7 L391.5 712.4 L392.3 713.0 L393.1 713.6 L393.9 714.2 L394.7 714.8 L395.5 715.4 L396.3 716.0 L397.1 716.7 L397.9 717.3 L398.7 717.8 L399.5 718.4 L400.3 719.0 L401.1 719.6 L402.0 720.1 L402.8 720.7 L403.7 721.2 L404.5 721.7 L405.4 722.2 L406.2 722.7 L407.1 723.1 L408.0 723.6 L408.9 724.0 L409.8 724.5 L410.7 724.9 L411.6 725.3 L412.5 725.8 L413.4 726.3 L414.3 726.7 L415.2 727.2 L416.0 727.7 L416.9 728.2 L417.8 728.7 L418.6 729.2 L419.5 729.7 L420.3 730.2 L421.2 730.8 L422.1 731.3 L422.9 731.8 L423.8 732.3 L424.6 732.9 L425.4 733.4 L426.3 733.9 L427.1 734.5 L428.0 735.0 L428.8 735.6 L429.6 736.1 L430.4 736.7 L431.3 737.3 L432.1 737.8 L432.9 738.4 L433.7 739.0 L434.6 739.6 L435.4 740.1 L436.2 740.7 L437.0 741.3 L437.8 741.9 L438.6 742.4 L439.5 743.0 L440.3 743.6 L441.1 744.2 L441.9 744.7 L442.8 745.3 L443.6 745.9 L444.4 746.4 L445.2 747.0 L446.1 747.5 L446.9 748.1 L447.8 748.6 L448.6 749.1 L449.5 749.7 L450.3 750.2 L451.2 750.7 L452.0 751.3 L452.9 751.8 L453.7 752.3 L454.6 752.9 L455.4 753.4 L456.2 754.0 L457.0 754.5 L457.9 755.1 L458.7 755.7 L459.5 756.3 L460.3 756.9 L461.1 757.5 L461.9 758.1 L462.6 758.7 L463.4 759.4 L464.1 760.1 L464.8 760.8 L465.6 761.5 L466.3 762.1 L467.1 762.7 L468.0 763.2 L468.9 763.6 L469.8 764.1 L470.7 764.5 L471.7 764.9 L472.6 765.3 L473.5 765.8 L474.3 766.3 L475.1 766.8 L475.8 767.5 L476.5 768.2 L477.2 769.0 L477.8 769.8 L478.5 770.5 L479.1 771.3 L479.8 772.1 L480.5 772.7 L481.3 773.4 L482.1 774.0 L482.8 774.6 L483.6 775.2 L484.4 775.8 L485.3 776.4 L486.1 777.0 L486.9 777.6 L487.8 778.1 L488.6 778.7 L489.5 779.2 L490.4 779.7 L491.2 780.2 L492.1 780.6 L493.0 781.0 L493.9 781.4 L494.9 781.8 L495.8 782.1 L496.8 782.5 L497.6 782.9 L498.5 783.5 L499.3 784.1 L500.1 784.7 L500.9 785.3 L501.7 785.9 L502.5 786.5 L503.3 787.0 L504.2 787.5 L505.1 787.9 L506.0 788.3 L507.0 788.7 L507.9 789.1 L508.8 789.5 L509.7 790.0 L510.6 790.5 L511.4 791.0 L512.2 791.6 L513.0 792.3 L513.8 792.9 L514.5 793.6 L515.3 794.2 L516.2 794.8 L517.0 795.2 L517.9 795.7 L518.8 796.0 L519.7 796.3 L520.7 796.6 L521.7 796.9 L522.6 797.2 L523.6 797.5 L524.5 797.9 L525.4 798.3 L526.4 798.8 L527.3 799.2 L528.2 799.6 L529.1 799.9 L530.0 800.2 L531.0 800.5 L532.0 800.7 L533.0 800.9 L534.0 801.0 L535.0 801.2 L536.0 801.4 L537.0 801.5 L538.0 801.8 L538.9 802.0 L539.8 802.3 L540.7 802.6 L541.6 803.0 L542.5 803.5 L543.3 804.0 L544.2 804.6 L545.0 805.2 L545.9 805.8 L546.7 806.4 L547.5 807.0 L548.3 807.7 L549.0 808.3 L549.8 809.0 L550.5 809.7 L551.2 810.4 L551.9 811.1 L552.5 811.9 L553.2 812.7 L553.9 813.4 L554.7 814.0 L555.4 814.6 L556.2 815.3 L557.0 815.9 L557.8 816.4 L558.7 817.0 L559.5 817.6 L560.4 818.1 L560.9 818.4" stroke="#000" stroke-width="2.7" stroke-linecap="round"/>
<path d="M244.1 599.5 L244.2 599.6" stroke="#0000ff" stroke-width="2.7" stroke-linecap="round"/>
<path d="M250.6 610.2 L250.7 610.4" stroke="#0000ff" stroke-width="2.7" stroke-linecap="round"/>
<path d="M257.1 621.1 L257.2 621.2" stroke="#0000ff" stroke-width="2.7" stroke-linecap="round"/>
<path d="M263.6 631.8 L263.8 632.2" stroke="#0000ff" stroke-width="2.7" stroke-linecap="round"/>
<path d="M270.1 642.6 L270.3 643.0" stroke="#0000ff" stroke-width="2.7" stroke-linecap="round"/>
<path d="M276.8 653.6 L276.9 653.7" stroke="#0000ff" stroke-width="2.7" stroke-linecap="round"/>
<path d="M283.3 664.3 L283.4 664.5" stroke="#0000ff" stroke-width="2.7" stroke-linecap="round"/>
<path d="M289.7 675.2 L289.8 675.4" stroke="#0000ff" stroke-width="2.7" stroke-linecap="round"/>
<path d="M296.7 685.9 L296.9 686.3" stroke="#0000ff" stroke-width="2.7" stroke-linecap="round"/>
<path d="M303.9 696.8 L304.1 697.1" stroke="#0000ff" stroke-width="2.7" stroke-linecap="round"/>
<path d="M310.4 707.5 L310.6 707.9" stroke="#0000ff" stroke-width="2.7" stroke-linecap="round"/>
<path d="M317.3 718.3 L317.5 718.7" stroke="#0000ff" stroke-width="2.7" stroke-linecap="round"/>
<path d="M324.4 729.2 L324.6 729.6" stroke="#0000ff" stroke-width="2.7" stroke-linecap="round"/>
<path d="M331.3 740.0 L331.5 740.3" stroke="#0000ff" stroke-width="2.7" stroke-linecap="round"/>
<path d="M338.7 750.9 L338.8 751.1" stroke="#0000ff" stroke-width="2.7" stroke-linecap="round"/>
<path d="M345.9 761.7 L346.0 761.9" stroke="#0000ff" stroke-width="2.7" stroke-linecap="round"/>
<path d="M352.5 772.5 L352.7 772.8" stroke="#0000ff" stroke-width="2.7" stroke-linecap="round"/>
<path d="M360.7 783.3 L360.9 783.7" stroke="#0000ff" stroke-width="2.7" stroke-linecap="round"/>
<path d="M368.2 794.2 L368.4 794.5" stroke="#0000ff" stroke-width="2.7" stroke-linecap="round"/>
<path d="M376.1 805.0 L376.2 805.2" stroke="#0000ff" stroke-width="2.7" stroke-linecap="round"/>
<path d="M385.2 815.9 L385.4 816.0" stroke="#0000ff" stroke-width="2.7" stroke-linecap="round"/>
</g>
<path d="M242.2 572.0 H593.8 V818.7" fill="none" stroke="#000" stroke-width="1.9" stroke-linecap="square" stroke-linejoin="miter"/>
<line x1="286.15" y1="572" x2="286.15" y2="578.7" stroke="#000" stroke-width="1.7" stroke-linecap="butt"/>
<line x1="330.1" y1="572" x2="330.1" y2="576" stroke="#000" stroke-width="1.7" stroke-linecap="butt"/>
<line x1="374.05" y1="572" x2="374.05" y2="578.7" stroke="#000" stroke-width="1.7" stroke-linecap="butt"/>
<line x1="418" y1="572" x2="418" y2="576" stroke="#000" stroke-width="1.7" stroke-linecap="butt"/>
<line x1="461.95" y1="572" x2="461.95" y2="578.7" stroke="#000" stroke-width="1.7" stroke-linecap="butt"/>
<line x1="505.9" y1="572" x2="505.9" y2="576" stroke="#000" stroke-width="1.7" stroke-linecap="butt"/>
<line x1="549.85" y1="572" x2="549.85" y2="578.7" stroke="#000" stroke-width="1.7" stroke-linecap="butt"/>
<line x1="593.8" y1="793.95" x2="589.3" y2="793.95" stroke="#000" stroke-width="1.7" stroke-linecap="butt"/>
<line x1="593.8" y1="779.46" x2="589.3" y2="779.46" stroke="#000" stroke-width="1.7" stroke-linecap="butt"/>
<line x1="593.8" y1="769.19" x2="589.3" y2="769.19" stroke="#000" stroke-width="1.7" stroke-linecap="butt"/>
<line x1="593.8" y1="761.22" x2="589.3" y2="761.22" stroke="#000" stroke-width="1.7" stroke-linecap="butt"/>
<line x1="593.8" y1="754.71" x2="589.3" y2="754.71" stroke="#000" stroke-width="1.7" stroke-linecap="butt"/>
<line x1="593.8" y1="749.2" x2="589.3" y2="749.2" stroke="#000" stroke-width="1.7" stroke-linecap="butt"/>
<line x1="593.8" y1="744.44" x2="589.3" y2="744.44" stroke="#000" stroke-width="1.7" stroke-linecap="butt"/>
<line x1="593.8" y1="740.23" x2="589.3" y2="740.23" stroke="#000" stroke-width="1.7" stroke-linecap="butt"/>
<line x1="593.8" y1="736.47" x2="585.6" y2="736.47" stroke="#000" stroke-width="1.7" stroke-linecap="butt"/>
<line x1="593.8" y1="711.71" x2="589.3" y2="711.71" stroke="#000" stroke-width="1.7" stroke-linecap="butt"/>
<line x1="593.8" y1="697.23" x2="589.3" y2="697.23" stroke="#000" stroke-width="1.7" stroke-linecap="butt"/>
<line x1="593.8" y1="686.96" x2="589.3" y2="686.96" stroke="#000" stroke-width="1.7" stroke-linecap="butt"/>
<line x1="593.8" y1="678.99" x2="589.3" y2="678.99" stroke="#000" stroke-width="1.7" stroke-linecap="butt"/>
<line x1="593.8" y1="672.48" x2="589.3" y2="672.48" stroke="#000" stroke-width="1.7" stroke-linecap="butt"/>
<line x1="593.8" y1="666.97" x2="589.3" y2="666.97" stroke="#000" stroke-width="1.7" stroke-linecap="butt"/>
<line x1="593.8" y1="662.2" x2="589.3" y2="662.2" stroke="#000" stroke-width="1.7" stroke-linecap="butt"/>
<line x1="593.8" y1="658" x2="589.3" y2="658" stroke="#000" stroke-width="1.7" stroke-linecap="butt"/>
<line x1="593.8" y1="654.23" x2="585.6" y2="654.23" stroke="#000" stroke-width="1.7" stroke-linecap="butt"/>
<line x1="593.8" y1="629.48" x2="589.3" y2="629.48" stroke="#000" stroke-width="1.7" stroke-linecap="butt"/>
<line x1="593.8" y1="615" x2="589.3" y2="615" stroke="#000" stroke-width="1.7" stroke-linecap="butt"/>
<line x1="593.8" y1="604.72" x2="589.3" y2="604.72" stroke="#000" stroke-width="1.7" stroke-linecap="butt"/>
<line x1="593.8" y1="596.75" x2="589.3" y2="596.75" stroke="#000" stroke-width="1.7" stroke-linecap="butt"/>
<line x1="593.8" y1="590.24" x2="589.3" y2="590.24" stroke="#000" stroke-width="1.7" stroke-linecap="butt"/>
<line x1="593.8" y1="584.74" x2="589.3" y2="584.74" stroke="#000" stroke-width="1.7" stroke-linecap="butt"/>
<line x1="593.8" y1="579.97" x2="589.3" y2="579.97" stroke="#000" stroke-width="1.7" stroke-linecap="butt"/>
<line x1="593.8" y1="575.76" x2="589.3" y2="575.76" stroke="#000" stroke-width="1.7" stroke-linecap="butt"/>
</g>
<g id="labels" opacity="0.999" font-family="'Liberation Sans', sans-serif" fill="#000" stroke="#000" stroke-width="0.3" text-rendering="geometricPrecision">
<text transform="translate(83.1 1033.7) scale(1 1.028)" font-size="21.8" >0.0</text>
<text transform="translate(83.1 935.78) scale(1 1.028)" font-size="21.8" >0.2</text>
<text transform="translate(83.1 837.86) scale(1 1.028)" font-size="21.8" >0.4</text>
<text transform="translate(83.1 739.94) scale(1 1.028)" font-size="21.8" >0.6</text>
<text transform="translate(83.1 642.02) scale(1 1.028)" font-size="21.8" >0.8</text>
<path transform="translate(83.1 544.1) scale(0.01064 -0.01064)" d="M763 0H583V1147Q518 1085 412.5 1023T223 930V1104Q373 1174.5 485 1275T644 1470H763Z"/>
<text transform="translate(95.22 544.1) scale(1 1.028)" font-size="21.8" >.0</text>
<path transform="translate(106.2 1061.4) scale(0.01152 -0.01152)" d="M763 0H583V1147Q518 1085 412.5 1023T223 930V1104Q373 1174.5 485 1275T644 1470H763Z"/>
<text transform="translate(119.32 1061.4) scale(1 1.028)" font-size="23.6" >0</text>
<text transform="translate(133.3 1048.4) scale(1 1.028)" font-size="13.3" >0</text>
<path transform="translate(326.47 1061.4) scale(0.01152 -0.01152)" d="M763 0H583V1147Q518 1085 412.5 1023T223 930V1104Q373 1174.5 485 1275T644 1470H763Z"/>
<text transform="translate(339.59 1061.4) scale(1 1.028)" font-size="23.6" >0</text>
<path transform="translate(353.57 1048.4) scale(0.00649 -0.00649)" d="M763 0H583V1147Q518 1085 412.5 1023T223 930V1104Q373 1174.5 485 1275T644 1470H763Z"/>
<path transform="translate(546.73 1061.4) scale(0.01152 -0.01152)" d="M763 0H583V1147Q518 1085 412.5 1023T223 930V1104Q373 1174.5 485 1275T644 1470H763Z"/>
<text transform="translate(559.85 1061.4) scale(1 1.028)" font-size="23.6" >0</text>
<text transform="translate(573.83 1048.4) scale(1 1.028)" font-size="13.3" >2</text>
<path transform="translate(767 1061.4) scale(0.01152 -0.01152)" d="M763 0H583V1147Q518 1085 412.5 1023T223 930V1104Q373 1174.5 485 1275T644 1470H763Z"/>
<text transform="translate(780.12 1061.4) scale(1 1.028)" font-size="23.6" >0</text>
<text transform="translate(794.1 1048.4) scale(1 1.028)" font-size="13.3" >3</text>
<path transform="translate(199 579.6) scale(0.01064 -0.01064)" d="M763 0H583V1147Q518 1085 412.5 1023T223 930V1104Q373 1174.5 485 1275T644 1470H763Z"/>
<text transform="translate(211.12 579.6) scale(1 1.028)" font-size="21.8" >0</text>
<text transform="translate(222.7 568.6) scale(1 1.028)" font-size="13.5" >-</text>
<path transform="translate(227.2 568.1) scale(0.00659 -0.00659)" d="M763 0H583V1147Q518 1085 412.5 1023T223 930V1104Q373 1174.5 485 1275T644 1470H763Z"/>
<path transform="translate(199 661.83) scale(0.01064 -0.01064)" d="M763 0H583V1147Q518 1085 412.5 1023T223 930V1104Q373 1174.5 485 1275T644 1470H763Z"/>
<text transform="translate(211.12 661.83) scale(1 1.028)" font-size="21.8" >0</text>
<text transform="translate(222.7 650.33) scale(1 1.028)" font-size="13.5" >-2</text>
<path transform="translate(199 744.07) scale(0.01064 -0.01064)" d="M763 0H583V1147Q518 1085 412.5 1023T223 930V1104Q373 1174.5 485 1275T644 1470H763Z"/>
<text transform="translate(211.12 744.07) scale(1 1.028)" font-size="21.8" >0</text>
<text transform="translate(222.7 732.57) scale(1 1.028)" font-size="13.5" >-3</text>
<path transform="translate(199 826.3) scale(0.01064 -0.01064)" d="M763 0H583V1147Q518 1085 412.5 1023T223 930V1104Q373 1174.5 485 1275T644 1470H763Z"/>
<text transform="translate(211.12 826.3) scale(1 1.028)" font-size="21.8" >0</text>
<text transform="translate(222.7 814.8) scale(1 1.028)" font-size="13.5" >-4</text>
<text transform="translate(276.33 839.4) scale(1 1.028)" font-size="17.3" >20</text>
<text transform="translate(364.23 839.4) scale(1 1.028)" font-size="17.3" >40</text>
<text transform="translate(452.13 839.4) scale(1 1.028)" font-size="17.3" >60</text>
<text transform="translate(540.03 839.4) scale(1 1.028)" font-size="17.3" >80</text>
<text transform="translate(40.1 810.2) rotate(-90) scale(1.08 1)" font-size="32" stroke="none">ρ</text>
<text transform="translate(54.2 790.8) rotate(-90) scale(1.0 1)" font-size="24" >c</text>
<text transform="translate(39.2 779) rotate(-90) scale(0.88 1)" font-size="39" >(</text>
<text transform="translate(39.2 766.5) rotate(-90) scale(1.0 1)" font-size="39" font-family="'Liberation Serif', serif" font-style="italic">t</text>
<text transform="translate(39.2 753) rotate(-90) scale(0.88 1)" font-size="39" >)</text>
<text transform="translate(186.8 716.7) rotate(-90) scale(1.08 1)" font-size="22" stroke="none">ρ</text>
<text transform="translate(196.5 703) rotate(-90) scale(1.0 1)" font-size="16" >c</text>
<text transform="translate(186.3 694.7) rotate(-90) scale(0.85 1)" font-size="27.6" stroke-width="0.7">(</text>
<text transform="translate(186.2 686) rotate(-90) scale(1.0 1)" font-size="26.5" font-family="'Liberation Serif', serif" font-style="italic">t</text>
<text transform="translate(186.3 676.6) rotate(-90) scale(0.85 1)" font-size="27.6" stroke-width="0.7">)</text>
<text transform="translate(449.1 1088.3) scale(1 1)" font-size="39" font-family="'Liberation Serif', serif" font-style="italic">t</text>
<text transform="translate(415.6 859.9) scale(1 1)" font-size="26.5" font-family="'Liberation Serif', serif" font-style="italic">t</text>
<text transform="translate(677.9 926) scale(1.22 1)" font-size="24.5" stroke="none" font-family="'Liberation Serif', serif">α</text>
<rect x="701.7" y="912.6" width="12.9" height="2.3" stroke="none"/><rect x="701.7" y="918.5" width="12.9" height="2.3" stroke="none"/>
<text transform="translate(723.1 925.7) scale(1 1.028)" font-size="25.8" >0</text>
<text transform="translate(677.9 958.2) scale(1.22 1)" font-size="24.5" stroke="none" font-family="'Liberation Serif', serif">α</text>
<rect x="701.7" y="944.8" width="12.9" height="2.3" stroke="none"/><rect x="701.7" y="950.7" width="12.9" height="2.3" stroke="none"/>
<text transform="translate(723.1 957.9) scale(1 1.028)" font-size="25.8" >0.5</text>
<text transform="translate(677.9 990.3) scale(1.22 1)" font-size="24.5" stroke="none" font-family="'Liberation Serif', serif">α</text>
<rect x="701.7" y="976.9" width="12.9" height="2.3" stroke="none"/><rect x="701.7" y="982.8" width="12.9" height="2.3" stroke="none"/>
<path transform="translate(723.1 990) scale(0.01260 -0.01260)" d="M763 0H583V1147Q518 1085 412.5 1023T223 930V1104Q373 1174.5 485 1275T644 1470H763Z"/>
<text transform="translate(737.44 990) scale(1 1.028)" font-size="25.8" >.5</text>
</g>
<g id="legend-samples">
<line x1="612.3" y1="916.8" x2="670.8" y2="916.8" stroke="#000" stroke-width="2.9" stroke-linecap="round"/>
<line x1="612.3" y1="949.4" x2="621.4" y2="949.4" stroke="#ff0000" stroke-width="2.9" stroke-linecap="round"/>
<line x1="634.14" y1="949.4" x2="643.24" y2="949.4" stroke="#ff0000" stroke-width="2.9" stroke-linecap="round"/>
<line x1="655.98" y1="949.4" x2="665.08" y2="949.4" stroke="#ff0000" stroke-width="2.9" stroke-linecap="round"/>
<line x1="612.3" y1="981.5" x2="613.6" y2="981.5" stroke="#0000ff" stroke-width="3.0" stroke-linecap="round"/>
<line x1="625.35" y1="981.5" x2="626.65" y2="981.5" stroke="#0000ff" stroke-width="3.0" stroke-linecap="round"/>
<line x1="638.4" y1="981.5" x2="639.7" y2="981.5" stroke="#0000ff" stroke-width="3.0" stroke-linecap="round"/>
<line x1="651.45" y1="981.5" x2="652.75" y2="981.5" stroke="#0000ff" stroke-width="3.0" stroke-linecap="round"/>
<line x1="664.5" y1="981.5" x2="665.8" y2="981.5" stroke="#0000ff" stroke-width="3.0" stroke-linecap="round"/>
</g>
</svg>
</body></html>
